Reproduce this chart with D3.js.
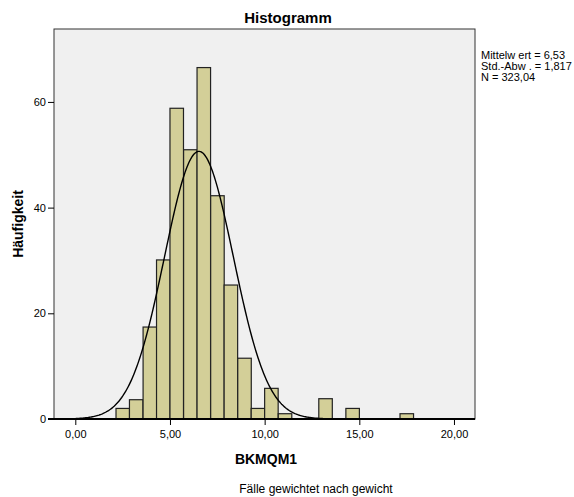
<!DOCTYPE html>
<html>
<head>
<meta charset="utf-8">
<script src="https://cdn.jsdelivr.net/npm/d3@7/dist/d3.min.js"></script>
<style>
  body { margin: 0; background: #fff; }
  text { font-family: "Liberation Sans", Arial, sans-serif; fill: #000; }
  .tick text { font-size: 11px; }
</style>
</head>
<body>
<div id="chart"></div>
<script>
// bin lower edges (BKMQM1) and weighted counts
var binStart = [2.15, 2.86, 3.58, 4.29, 5.00, 5.72, 6.43, 7.15, 7.86, 8.58, 9.29, 10.00, 10.72, 12.86, 14.29, 17.15];
var counts   = [2.0, 3.65, 17.4, 30.1, 58.8, 50.95, 66.5, 42.25, 25.35, 11.5, 2.0, 5.8, 1.0, 3.84, 2.0, 1.0];
var binWidth = 0.714;
var xTicks = [0, 5, 10, 15, 20];
var yTicks = [0, 20, 40, 60];
var statLines = ['Mittelw ert = 6,53', 'Std.-Abw . = 1,817', 'N = 323,04'];
var mean = 6.53, sd = 1.817, n = 323.04;

(function (d3) {
  'use strict';
  var width = 574, height = 497;
  var pLeft = 54, pRight = 475, pTop = 29, pBottom = 419;

  var svg = d3.select('#chart').append('svg')
    .attr('width', width).attr('height', height);

  var x = d3.scaleLinear().domain([-1.125, 21.11]).range([pLeft, pRight]);
  var y = d3.scaleLinear().domain([0, 73.8]).range([pBottom, pTop]);

  // plot background + frame
  svg.append('rect')
    .attr('x', pLeft).attr('y', pTop)
    .attr('width', pRight - pLeft).attr('height', pBottom - pTop)
    .attr('fill', '#f0f0f0').attr('stroke', '#333').attr('stroke-width', 1);

  svg.append('clipPath').attr('id', 'clip')
    .append('rect').attr('x', pLeft).attr('y', pTop)
    .attr('width', pRight - pLeft).attr('height', pBottom - pTop);

  // bars
  svg.append('g').selectAll('rect')
    .data(binStart)
    .enter().append('rect')
    .attr('x', function(d){ return x(d); })
    .attr('y', function(d, i){ return y(counts[i]); })
    .attr('width', function(d){ return x(d + binWidth) - x(d); })
    .attr('height', function(d, i){ return y(0) - y(counts[i]); })
    .attr('fill', '#d3cf98')
    .attr('stroke', '#222')
    .attr('stroke-width', 1.2);

  // fitted normal curve from the stats box
  var curvePts = d3.range(-1.2, 21.2, 0.05).map(function(v){
    var z = (v - mean) / sd;
    return [v, n * binWidth * Math.exp(-0.5 * z * z) / (sd * Math.sqrt(2 * Math.PI))];
  });
  svg.append('path')
    .datum(curvePts)
    .attr('clip-path', 'url(#clip)')
    .attr('fill', 'none')
    .attr('stroke', '#000')
    .attr('stroke-width', 1.4)
    .attr('d', d3.line()
      .x(function(d){ return x(d[0]); })
      .y(function(d){ return y(d[1]); }));

  // axes
  var fmt = function(d){ return d3.format('.2f')(d).replace('.', ','); };
  var xAxis = svg.append('g')
    .attr('transform', 'translate(0,' + pBottom + ')')
    .call(d3.axisBottom(x).tickValues(xTicks).tickFormat(fmt).tickSize(6).tickSizeOuter(0));
  xAxis.select('.domain').attr('stroke', '#000').attr('stroke-width', 2)
    .attr('d', 'M' + (pLeft - 6) + ',0H' + pRight);
  xAxis.selectAll('.tick line').attr('stroke', '#000');
  xAxis.selectAll('.tick text').attr('dy', '0.9em');

  var yAxis = svg.append('g')
    .attr('transform', 'translate(' + pLeft + ',0)')
    .call(d3.axisLeft(y).tickValues(yTicks).tickSize(6).tickSizeOuter(0));
  yAxis.select('.domain').remove();
  yAxis.selectAll('.tick line').attr('stroke', '#000');
  yAxis.selectAll('.tick text').attr('x', -8);

  // titles
  svg.append('text')
    .attr('x', 288).attr('y', 23)
    .attr('text-anchor', 'middle')
    .style('font-size', '15px').style('font-weight', 'bold')
    .text('Histogramm');

  svg.append('text')
    .attr('transform', 'translate(23,224) rotate(-90)')
    .attr('text-anchor', 'middle')
    .style('font-size', '14px').style('font-weight', 'bold')
    .text('Häufigkeit');

  svg.append('text')
    .attr('x', 266).attr('y', 464)
    .attr('text-anchor', 'middle')
    .style('font-size', '14px').style('font-weight', 'bold')
    .text('BKMQM1');

  svg.append('text')
    .attr('x', 316).attr('y', 493)
    .attr('text-anchor', 'middle')
    .style('font-size', '12px')
    .text('Fälle gewichtet nach gewicht');

  svg.append('g').selectAll('text')
    .data(statLines)
    .enter().append('text')
    .attr('x', 481)
    .attr('y', function(d, i){ return 59 + i * 11; })
    .style('font-size', '11px')
    .text(function(d){ return d; });
})(window.d3);
</script>
</body>
</html>
